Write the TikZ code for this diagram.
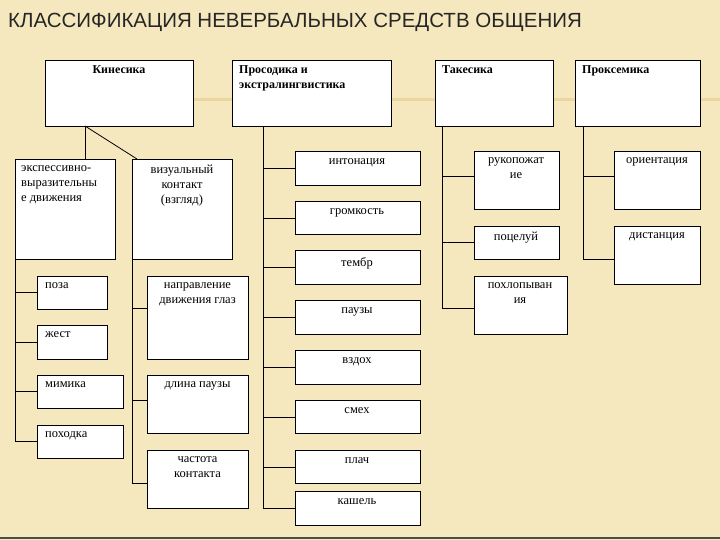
\documentclass[tikz,border=0pt]{standalone}
\usepackage{fontspec}
\setmainfont{Liberation Serif}
\newfontfamily\titlefont{Liberation Sans}
\definecolor{bg}{RGB}{246,232,190}
\definecolor{stripe}{RGB}{236,214,160}
\begin{document}
\begin{tikzpicture}[x=1pt,y=-1pt,
  bx/.style={draw=black,fill=white,line width=0.8pt},
  ln/.style={draw=black,line width=0.8pt},
  txt/.style={anchor=north,font=\fontsize{12.5}{15}\selectfont,align=center,inner sep=1pt},
  hd/.style={anchor=north west,font=\bfseries\fontsize{12}{15}\selectfont,align=left,inner sep=1pt}]
\fill[bg] (0,0) rectangle (720,540);
\useasboundingbox (0,0) rectangle (720,540);
\draw[stripe,line width=3pt] (193,100) -- (720,100);
\node[anchor=west,font=\titlefont\fontsize{20.5}{24}\selectfont,text=black!85,inner sep=0pt] (title) at (8,22) {КЛАССИФИКАЦИЯ НЕВЕРБАЛЬНЫХ СРЕДСТВ ОБЩЕНИЯ};
\newcommand\bxx[5]{\draw[bx] (#1,#2) rectangle (#3,#4); \coordinate (#5) at (#1,#2);}
% headers
\bxx{45}{60}{193}{126}{kin}
\node[hd,anchor=north] (tkin) at (119,64) {Кинесика};
\bxx{232}{60}{391}{126}{pro}
\node[hd] (tpro) at (238,64) {Просодика и\\экстралингвистика};
\bxx{435}{60}{553}{126}{tak}
\node[hd] (ttak) at (441,64) {Такесика};
\bxx{575}{60}{700}{126}{prk}
\node[hd] (tprk) at (581,64) {Проксемика};
% kinesics
\bxx{15}{159}{115}{259}{exp}
\node[txt,anchor=north west,align=left] (texp) at (20,164) {экспессивно-\\выразительны\\е движения};
\bxx{132}{159}{232}{259}{vis}
\node[txt] (tvis) at (182,164) {визуальный\\контакт\\(взгляд)};
\draw[ln] (85,126) -- (85,159);
\draw[ln] (85,126) -- (137,159);
\draw[ln] (15,259) -- (15,442);
\foreach \t/\ya/\yb/\xb/\n in {поза/276/309/107/a,жест/325/359/107/b,мимика/375/408/123/c,походка/425/458/123/d}{
  \draw[bx] (37,\ya) rectangle (\xb,\yb);
  \node[txt,anchor=north west] (k\n) at (44,\ya+5) {\t};
  \draw[ln] (15,{(\ya+\yb)/2}) -- (37,{(\ya+\yb)/2});
}
\draw[ln] (132,259) -- (132,483);
\foreach \t/\ya/\yb/\n in {{направление\\движения глаз}/276/359/a,{длина паузы}/375/433/b,{частота\\контакта}/450/508/c}{
  \draw[bx] (147,\ya) rectangle (248,\yb);
  \node[txt] (v\n) at (197.5,\ya+5) {\t};
}
\draw[ln] (132,308) -- (147,308);
\draw[ln] (132,400) -- (147,400);
\draw[ln] (132,483) -- (147,483);
% prosody
\draw[ln] (263,126) -- (263,508);
\foreach \t/\ya/\yb/\yc/\n in {интонация/151/185/168/a,громкость/201/234/218/b,тембр/250/284/267/c,паузы/300/334/317/d,вздох/350/384/367/e,смех/400/433/417/f,плач/450/483/467/g,кашель/491/525/508/h}{
  \draw[bx] (295,\ya) rectangle (420,\yb);
  \node[txt] (p\n) at (357,\ya+6) {\t};
  \draw[ln] (263,\yc) -- (295,\yc);
}
% takesika
\draw[ln] (442,126) -- (442,308);
\draw[bx] (474,151) rectangle (559,209); \node[txt] (ta) at (516,156) {рукопожат\\ие};
\draw[bx] (474,226) rectangle (559,259); \node[txt] (tb) at (516,231) {поцелуй};
\draw[bx] (474,276) rectangle (567,334); \node[txt] (tc) at (520,281) {похлопыван\\ия};
\draw[ln] (442,176) -- (474,176);
\draw[ln] (442,242) -- (474,242);
\draw[ln] (442,308) -- (474,308);
% proxemics
\draw[ln] (583,126) -- (583,259);
\draw[bx] (614,151) rectangle (700,209); \node[txt] (xa) at (657,156) {ориентация};
\draw[bx] (614,226) rectangle (700,284); \node[txt] (xb) at (657,231) {дистанция};
\draw[ln] (583,176) -- (614,176);
\draw[ln] (583,259) -- (614,259);
\draw[black!70,line width=1.5pt] (0,538) -- (720,538);
\end{tikzpicture}
\end{document}
